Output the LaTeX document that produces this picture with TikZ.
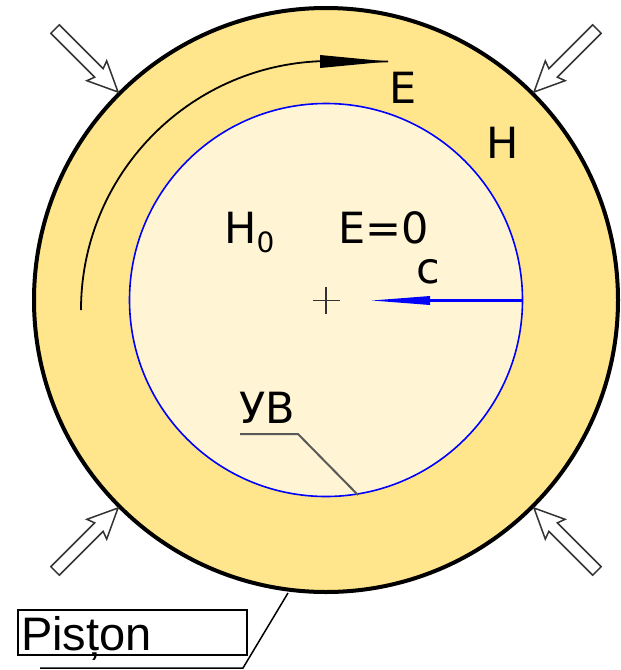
\documentclass[tikz,border=0pt]{standalone}
\usepackage{fontspec}
\setmainfont{DejaVu Sans}
\newfontfamily\pistonfont{Liberation Sans}
\definecolor{ringcol}{RGB}{255,229,140}
\definecolor{corecol}{RGB}{255,245,212}
\begin{document}
\begin{tikzpicture}[x=1pt,y=-1pt,
  lbl/.style={inner sep=0, anchor=base west, font=\fontsize{43}{50}\selectfont},
  hollow/.style={draw=black!80, fill=white, line width=1.5, line join=miter},
  leader/.style={line width=2, black!65},
  cross/.style={line width=1.5, black!80}]
\useasboundingbox (0,0) rectangle (621,670);
\fill[white] (0,0) rectangle (621,670);
\coordinate (C) at (326,300);
% ring and core
\draw[line width=4, fill=ringcol] (C) circle[radius=292];
\draw[blue, line width=1.6, fill=corecol] (C) circle[radius=196.5];
% curved E arrow
\coordinate (arcstart) at (81,310);
\coordinate (arctip) at (388,61.5);
\draw[line width=1.8] (arcstart) arc[start angle=180, end angle=268, radius=249] -- (arctip);
\fill (320,55) -- (arctip) -- (320,68) -- cycle;
% hollow pressure arrows
\newcommand\hollowarrow[2]{\draw[hollow, shift={(#1)}, rotate=#2] (0,0) -- (-30,14) -- (-27,6) -- (-89,6) -- (-89,-6) -- (-27,-6) -- (-30,-14) -- cycle;}
\hollowarrow{118,92}{-45}
\hollowarrow{534,92}{-135}
\hollowarrow{118,508}{45}
\hollowarrow{534,508}{135}
% centre cross
\draw[cross] (312.5,300.5) -- (339.5,300.5) (326,287) -- (326,314);
% radius c
\coordinate (rEnd) at (522.5,300.5);
\coordinate (rTip) at (372,300.5);
\draw[blue, line width=3] (rEnd) -- (430,300.5);
\fill[blue] (rTip) -- (430,296) -- (430,305) -- cycle;
% labels
\node[lbl] (E) at (389,103) {E};
\node[lbl] (H) at (486,158) {H};
\node[lbl] (H0) at (224,243) {H\raisebox{-9pt}{\fontsize{28}{28}\selectfont 0}};
\node[lbl] (E0) at (338,243) {E=0};
\node[lbl] (c) at (416,283) {c};
\node[lbl] (UV) at (239.5,423) {УВ};
% UV leader
\coordinate (uv1) at (240,434);
\coordinate (uv2) at (298,434);
\coordinate (uvpt) at (358,495);
\draw[leader] (uv1) -- (uv2) -- (uvpt);
% Piston
\node[draw, line width=1.5, anchor=north west, minimum width=229, minimum height=45, inner sep=0] (pbox) at (17,609) {};
\node[inner sep=0, anchor=base west, font=\pistonfont\fontsize{47}{50}\selectfont] (piston) at (21,650) {Pisțon};
\coordinate (pk0) at (288,593);
\coordinate (pk1) at (243,668);
\coordinate (pk2) at (40,668);
\draw[line width=1.5] (pk0) -- (pk1) -- (pk2);
\end{tikzpicture}
\end{document}
